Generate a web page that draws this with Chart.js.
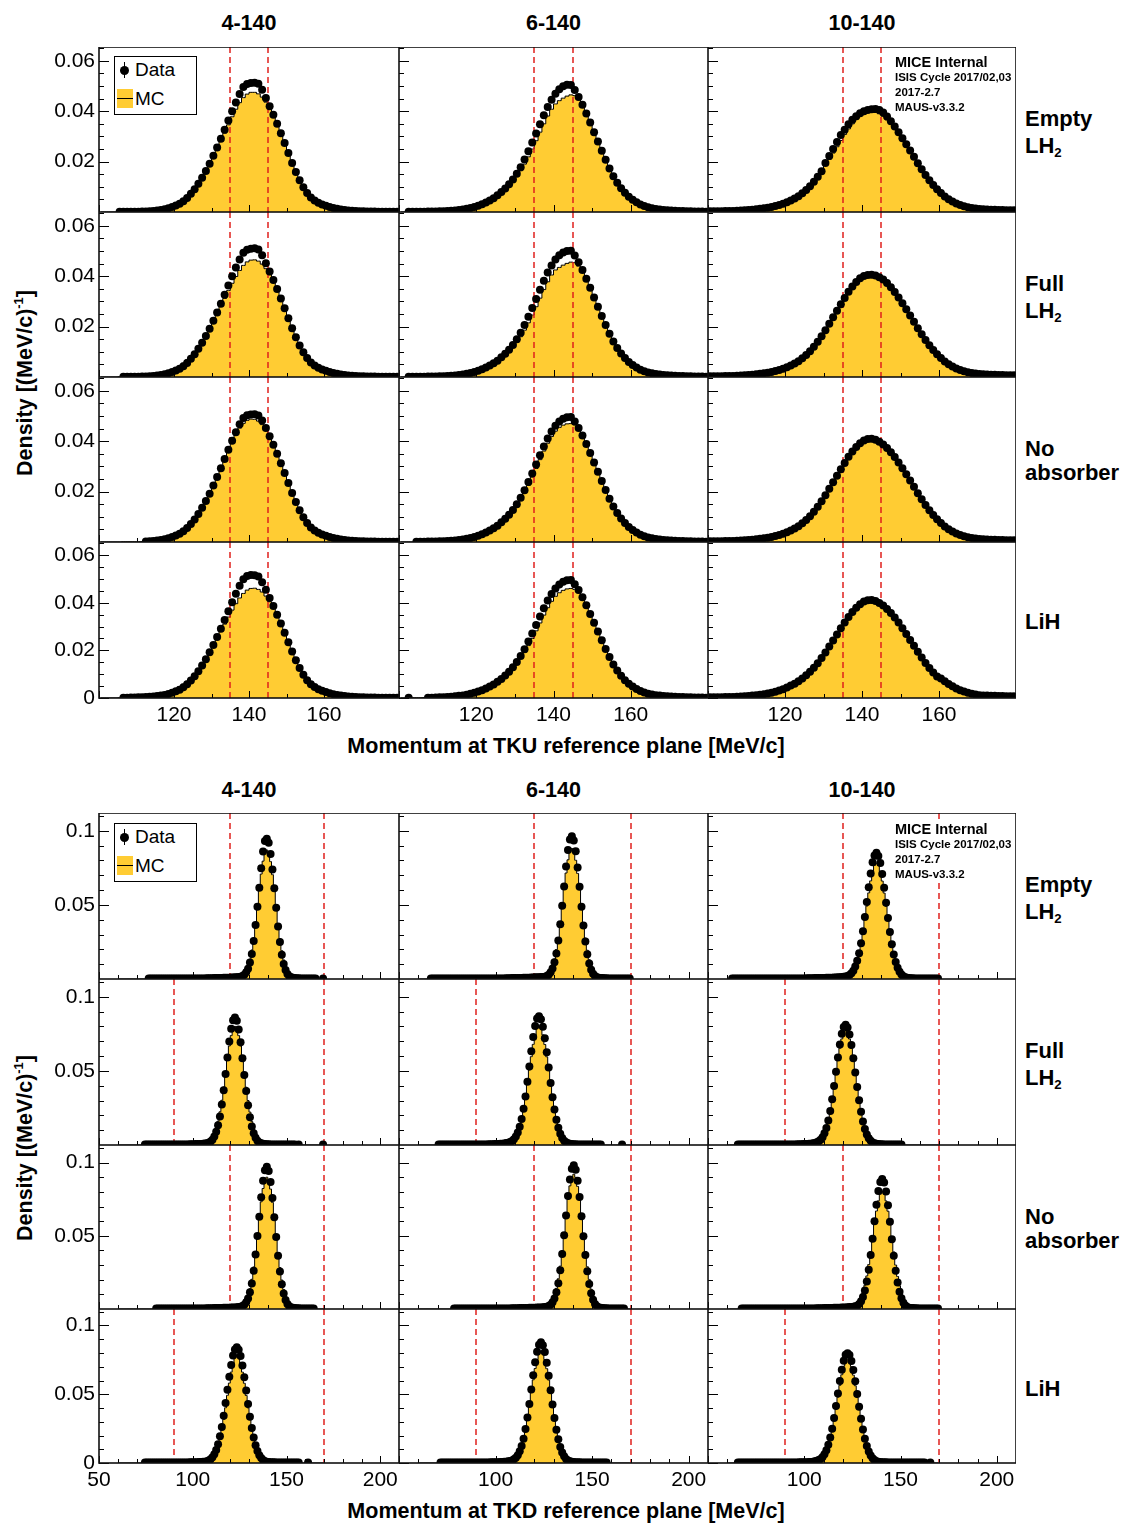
<!DOCTYPE html>
<html>
<head>
<meta charset="utf-8">
<script src="https://cdn.jsdelivr.net/npm/chart.js@4.4.1/dist/chart.umd.min.js"></script>
<style>
  body { margin: 0; background: #fff; }
  #page { position: relative; width: 1126px; height: 1524px; overflow: hidden; }
  #page canvas { position: absolute; }
  .lbl { position: absolute; font-family: "Liberation Sans", Arial, Helvetica, sans-serif; white-space: nowrap; line-height: 1; color: #000; }
  .c { transform: translate(-50%, -50%); }
  .l { transform: translate(0, -50%); }
  .b { font-weight: bold; }
  sub { font-size: 0.6em; vertical-align: -0.35em; }
  sup { font-size: 0.6em; vertical-align: 0.7em; }
  .legend { position: absolute; background: #fff; border: 1px solid #000; }
  .mice { position: absolute; background: #fff; font-family: "Liberation Sans", Arial, sans-serif; font-weight: bold; }
  .mice div { height: 15px; line-height: 15px; white-space: nowrap; }
</style>
</head>
<body>
<div id="page"></div>
<script>
const n = null;

// 1 MeV/c bins. TKU bin centres start at 100.5, TKD bin centres start at 60.5
// densities below are in units of 1e-3 (MeV/c)^-1
const tkuBinStart = 100.5;
const tkdBinStart = 60.5;

// ---------- TKU (upstream) ----------
const tku_empty_4_data = [n,n,n,n,n,0.1,0.1,0.1,0.1,0.1, 0.1,0.2,0.2,0.3,0.4,0.6,0.8,1.1,1.5,2.0, 2.6,3.3,4.3,5.6,7.2,9.0,11.2,13.6,16.3,19.2, 22.3,25.6,29.1,32.7,36.3,40.0,43.5,46.8,49.6,50.8, 51.2,51.3,50.9,48.5,45.3,42.0,38.6,35.0,31.3,27.4, 23.4,19.5,15.9,12.6,9.8,7.5,5.8,4.6,3.7,3.0, 2.5,2.0,1.6,1.3,1.0,0.8,0.6,0.5,0.4,0.3, 0.3,0.2,0.2,0.2,0.1,0.1,0.1,0.1,0.1,0.1];
const tku_empty_4_mc = [0,0,0,0,0,0.1,0.1,0.1,0.1,0.1, 0.1,0.2,0.3,0.4,0.5,0.7,1.0,1.3,1.8,2.4, 3.1,3.9,4.9,6.1,7.6,9.4,11.4,13.6,16.1,18.8, 21.7,24.8,28.0,31.3,34.6,37.8,40.8,43.4,45.4,46.8, 47.5,47.5,46.9,45.6,43.6,41.0,38.0,34.6,31.0,27.2, 23.3,19.6,16.1,13.0,10.3,8.0,6.1,4.7,3.6,2.8, 2.2,1.7,1.3,1.0,0.8,0.6,0.5,0.4,0.3,0.3, 0.2,0.2,0.2,0.1,0.1,0.1,0.1,0.1,0.1,0.1];
const tku_empty_6_data = [n,n,0.1,0.1,0.1,0.1,0.1,0.2,0.2,0.2, 0.3,0.3,0.4,0.5,0.6,0.8,1.0,1.3,1.6,2.0, 2.5,3.1,3.8,4.6,5.5,6.6,7.9,9.3,11.0,12.9, 15.2,17.8,20.8,24.1,27.6,31.2,34.8,38.4,41.7,44.6, 46.9,48.7,49.9,50.5,50.4,48.4,45.7,42.6,39.1,35.5, 31.7,28.0,24.3,20.7,17.3,14.2,11.6,9.4,7.6,6.1, 4.9,3.9,3.0,2.4,1.9,1.5,1.2,1.0,0.8,0.7, 0.6,0.5,0.4,0.4,0.3,0.3,0.2,0.2,0.2,0.1];
const tku_empty_6_mc = [0,0,0.1,0.1,0.1,0.1,0.1,0.2,0.2,0.2, 0.3,0.3,0.4,0.5,0.6,0.8,1.0,1.3,1.6,2.0, 2.5,3.1,3.8,4.6,5.5,6.5,7.6,8.9,10.4,12.1, 14.1,16.4,19.0,21.9,25.0,28.3,31.7,35.0,38.1,40.8, 42.9,44.2,45.2,46.0,46.5,46.2,44.6,42.0,38.8,35.3, 31.6,28.0,24.3,20.7,17.3,14.2,11.6,9.4,7.6,6.1, 4.9,3.9,3.0,2.4,1.9,1.5,1.2,1.0,0.8,0.7, 0.6,0.5,0.4,0.4,0.3,0.3,0.2,0.2,0.2,0.1];
const tku_empty_10_data = [0.3,0.3,0.3,0.3,0.4,0.4,0.4,0.5,0.6,0.7, 0.8,0.9,1.1,1.3,1.5,1.7,2.0,2.4,2.8,3.3, 3.9,4.6,5.4,6.3,7.4,8.7,10.2,12.0,14.0,16.2, 19.5,22.2,25.0,27.8,30.6,32.7,34.8,36.6,38.0,39.2, 40.0,40.5,40.8,40.9,40.5,39.5,37.9,36.0,33.9,31.7, 29.3,26.9,24.4,21.9,19.4,17.0,14.7,12.6,10.7,9.0, 7.5,6.2,5.1,4.2,3.4,2.8,2.3,1.9,1.6,1.4, 1.2,1.1,1.0,0.9,0.9,0.8,0.8,0.7,0.7,0.7];
const tku_empty_10_mc = [0.3,0.3,0.3,0.3,0.4,0.4,0.4,0.5,0.6,0.7, 0.8,0.9,1.1,1.3,1.5,1.7,2.0,2.4,2.8,3.3, 3.9,4.6,5.4,6.3,7.4,8.7,10.2,12.0,14.0,16.2, 18.5,20.9,23.4,25.9,28.4,30.8,33.0,35.0,36.7,38.1, 39.0,39.5,39.6,39.5,39.0,38.0,36.6,35.0,33.2,31.2, 29.2,26.8,24.3,21.8,19.3,16.9,14.6,12.5,10.6,8.9, 7.4,6.1,5.0,4.1,3.3,2.7,2.2,1.8,1.5,1.3, 1.1,1.0,0.9,0.8,0.8,0.7,0.7,0.6,0.6,0.6];

const tku_full_4_data = [n,n,n,n,n,n,0.1,0.1,0.1,0.1, 0.1,0.2,0.2,0.3,0.4,0.6,0.8,1.1,1.5,2.0, 2.6,3.3,4.3,5.6,7.2,9.0,11.2,13.6,16.3,19.2, 22.3,25.6,29.1,32.7,36.3,40.0,43.5,46.6,49.3,50.5, 50.9,51.1,50.6,48.3,45.2,41.9,38.5,34.9,31.2,27.3, 23.3,19.4,15.8,12.5,9.8,7.5,5.8,4.6,3.7,3.0, 2.5,2.0,1.6,1.3,1.0,0.8,0.6,0.5,0.4,0.3, 0.3,0.2,0.2,0.2,0.1,0.1,0.1,0.1,0.1,0.1];
const tku_full_4_mc = [0,0,0,0,0,0.1,0.1,0.1,0.1,0.1, 0.2,0.2,0.3,0.4,0.6,0.8,1.1,1.5,2.0,2.7, 3.5,4.4,5.5,6.8,8.3,10.1,12.1,14.3,16.8,19.4, 22.2,25.1,28.1,31.2,34.3,37.2,39.9,42.3,44.3,45.7, 46.4,46.5,46.0,44.8,43.0,40.6,37.7,34.4,30.8,27.0, 23.2,19.5,16.0,12.9,10.2,7.9,6.1,4.7,3.6,2.8, 2.2,1.7,1.3,1.0,0.8,0.6,0.5,0.4,0.3,0.3, 0.2,0.2,0.2,0.1,0.1,0.1,0.1,0.1,0.1,0.1];
const tku_full_6_data = [n,n,0.1,0.1,0.1,0.1,0.1,0.2,0.2,0.2, 0.3,0.3,0.4,0.5,0.6,0.8,1.0,1.3,1.6,2.0, 2.5,3.1,3.8,4.6,5.5,6.5,7.8,9.2,10.8,12.7, 15.0,17.6,20.6,23.9,27.4,31.0,34.6,38.2,41.5,44.3, 46.6,48.3,49.4,50.0,50.1,48.2,45.6,42.5,39.0,35.4, 31.6,27.9,24.2,20.6,17.2,14.1,11.5,9.3,7.5,6.0, 4.8,3.8,2.9,2.3,1.8,1.5,1.2,1.0,0.8,0.7, 0.6,0.5,0.4,0.4,0.3,0.3,0.2,0.2,0.2,0.1];
const tku_full_6_mc = [0,0,0.1,0.1,0.1,0.1,0.1,0.2,0.2,0.2, 0.3,0.3,0.4,0.5,0.6,0.8,1.0,1.3,1.6,2.0, 2.5,3.1,3.8,4.6,5.5,6.5,7.6,8.9,10.3,11.9, 13.8,16.0,18.6,21.5,24.6,27.9,31.3,34.7,37.8,40.5, 42.5,43.5,44.4,45.1,45.6,45.4,44.0,41.6,38.5,35.1, 31.5,27.9,24.2,20.6,17.2,14.1,11.5,9.3,7.5,6.0, 4.8,3.8,2.9,2.3,1.8,1.4,1.1,0.9,0.7,0.6, 0.5,0.4,0.4,0.3,0.3,0.2,0.2,0.2,0.1,0.1];
const tku_full_10_data = [0.3,0.3,0.3,0.3,0.4,0.4,0.4,0.5,0.6,0.7, 0.8,0.9,1.1,1.3,1.5,1.7,2.0,2.4,2.8,3.3, 3.9,4.6,5.4,6.3,7.4,8.7,10.2,12.0,14.0,16.2, 18.6,21.1,23.7,26.3,28.9,31.4,33.8,35.9,37.7,39.2, 40.1,40.5,40.6,40.3,39.6,38.7,37.3,35.6,33.7,31.6, 29.3,26.9,24.4,21.9,19.4,17.0,14.7,12.6,10.7,9.0, 7.5,6.2,5.1,4.2,3.4,2.8,2.3,1.9,1.6,1.4, 1.2,1.1,1.0,0.9,0.9,0.8,0.8,0.7,0.7,0.7];
const tku_full_10_mc = [0.3,0.3,0.3,0.3,0.4,0.4,0.4,0.5,0.6,0.7, 0.8,0.9,1.1,1.3,1.5,1.7,2.0,2.4,2.8,3.3, 3.9,4.6,5.4,6.3,7.4,8.7,10.2,12.0,14.0,16.2, 18.6,21.0,23.6,26.1,28.7,31.1,33.4,35.5,37.3,38.7, 39.6,40.0,40.0,39.7,39.1,38.2,36.9,35.3,33.5,31.5, 29.2,26.8,24.3,21.8,19.3,16.9,14.6,12.5,10.6,8.9, 7.4,6.1,5.0,4.1,3.3,2.7,2.2,1.8,1.5,1.3, 1.1,1.0,0.9,0.8,0.8,0.7,0.7,0.6,0.6,0.6];

const tku_none_4_data = [n,n,n,n,n,n,n,n,n,n, n,n,0.2,0.3,0.4,0.6,0.8,1.1,1.5,2.0, 2.6,3.3,4.3,5.6,7.1,8.9,11.1,13.6,16.3,19.2, 22.4,25.8,29.3,32.9,36.6,40.2,43.6,46.7,49.2,50.3, 50.6,50.7,50.2,48.2,45.3,42.0,38.6,35.0,31.3,27.4, 23.4,19.5,15.9,12.6,9.8,7.5,5.8,4.6,3.7,3.0, 2.5,2.0,1.6,1.3,1.0,0.8,0.6,0.5,0.4,0.3, 0.3,0.2,0.2,0.2,0.1,0.1,0.1,0.1,0.1,0.1];
const tku_none_4_mc = [0,0,0,0,0,0,0.1,0.1,0.1,0.1, 0.1,0.2,0.3,0.4,0.5,0.7,1.0,1.3,1.8,2.4, 3.1,3.9,4.9,6.1,7.6,9.4,11.5,13.8,16.4,19.3, 22.4,25.7,29.1,32.6,36.1,39.5,42.6,45.2,47.1,48.3, 48.8,48.7,48.0,46.6,44.4,41.6,38.3,34.8,31.1,27.2, 23.3,19.6,16.1,13.0,10.3,8.0,6.1,4.7,3.6,2.8, 2.2,1.7,1.3,1.0,0.8,0.6,0.5,0.4,0.3,0.3, 0.2,0.2,0.2,0.1,0.1,0.1,0.1,0.1,0.1,0.1];
const tku_none_6_data = [n,n,n,n,0.1,0.1,0.1,0.2,0.2,0.2, 0.3,0.3,0.4,0.5,0.6,0.8,1.0,1.3,1.6,2.0, 2.5,3.1,3.8,4.6,5.5,6.5,7.8,9.2,10.8,12.7, 15.0,17.6,20.5,23.8,27.2,30.8,34.4,37.9,41.1,43.9, 46.1,47.8,48.9,49.5,49.6,47.8,45.3,42.3,38.9,35.3, 31.6,27.9,24.2,20.6,17.2,14.1,11.5,9.3,7.5,6.0, 4.8,3.8,2.9,2.3,1.8,1.5,1.2,1.0,0.8,0.7, 0.6,0.5,0.4,0.4,0.3,0.3,0.2,0.2,0.2,0.1];
const tku_none_6_mc = [0,0,0,0,0.1,0.1,0.1,0.2,0.2,0.2, 0.3,0.3,0.4,0.5,0.6,0.8,1.0,1.3,1.6,2.0, 2.5,3.1,3.8,4.6,5.5,6.5,7.7,9.0,10.5,12.3, 14.4,16.8,19.5,22.5,25.8,29.2,32.7,36.1,39.2,41.9, 44.0,45.5,46.4,46.9,47.0,46.5,44.8,42.2,38.9,35.3, 31.6,27.9,24.2,20.6,17.2,14.1,11.5,9.3,7.5,6.0, 4.8,3.8,2.9,2.3,1.8,1.4,1.1,0.9,0.7,0.6, 0.5,0.4,0.4,0.3,0.3,0.2,0.2,0.2,0.1,0.1];
const tku_none_10_data = [0.3,0.3,0.3,0.3,0.4,0.4,0.4,0.5,0.6,0.7, 0.8,0.9,1.1,1.3,1.5,1.7,2.0,2.4,2.8,3.3, 3.9,4.6,5.4,6.3,7.4,8.7,10.2,12.0,14.0,16.2, 18.6,21.1,23.7,26.3,28.9,31.4,33.8,35.9,37.7,39.2, 40.3,40.9,41.0,40.6,39.8,38.7,37.3,35.6,33.7,31.6, 29.3,26.9,24.4,21.9,19.4,17.0,14.7,12.6,10.7,9.0, 7.5,6.2,5.1,4.2,3.4,2.8,2.3,1.9,1.6,1.4, 1.2,1.1,1.0,0.9,0.9,0.8,0.8,0.7,0.7,0.7];
const tku_none_10_mc = [0.3,0.3,0.3,0.3,0.4,0.4,0.4,0.5,0.6,0.7, 0.8,0.9,1.1,1.3,1.5,1.7,2.0,2.4,2.8,3.3, 3.9,4.6,5.4,6.3,7.4,8.7,10.2,12.0,14.0,16.2, 18.6,21.0,23.6,26.2,28.8,31.2,33.5,35.6,37.5,39.0, 40.0,40.5,40.5,40.1,39.4,38.4,37.0,35.4,33.5,31.5, 29.2,26.8,24.3,21.8,19.3,16.9,14.6,12.5,10.6,8.9, 7.4,6.1,5.0,4.1,3.3,2.7,2.2,1.8,1.5,1.3, 1.1,1.0,0.9,0.8,0.8,0.7,0.7,0.6,0.6,0.6];

const tku_lih_4_data = [n,n,n,n,n,n,0.1,0.1,0.2,0.2, 0.3,0.3,0.4,0.5,0.6,0.8,1.0,1.3,1.7,2.2, 2.8,3.5,4.5,5.8,7.3,9.1,11.2,13.6,16.3,19.2, 22.3,25.6,29.1,32.7,36.4,40.2,43.8,47.1,49.9,51.2, 51.6,51.5,51.0,48.6,45.4,42.0,38.6,35.0,31.3,27.4, 23.4,19.5,15.9,12.6,9.8,7.5,5.8,4.6,3.7,3.0, 2.5,2.0,1.6,1.3,1.0,0.8,0.6,0.5,0.4,0.3, 0.3,0.2,0.2,0.2,0.1,0.1,0.1,0.1,0.1,0.1];
const tku_lih_4_mc = [0,0,0,0,0,0.1,0.1,0.2,0.2,0.3, 0.4,0.5,0.6,0.8,1.0,1.3,1.7,2.1,2.6,3.2, 3.9,4.8,5.8,7.0,8.4,10.1,12.0,14.2,16.6,19.2, 22.0,24.9,27.9,31.0,34.0,36.9,39.6,42.0,43.9,45.3, 46.0,46.1,45.6,44.5,42.8,40.4,37.6,34.3,30.8,27.0, 23.2,19.5,16.0,12.9,10.2,7.9,6.1,4.7,3.6,2.8, 2.2,1.7,1.3,1.0,0.8,0.6,0.5,0.4,0.3,0.3, 0.2,0.2,0.2,0.1,0.1,0.1,0.1,0.1,0.1,0.1];
const tku_lih_6_data = [n,n,0.1,n,n,n,n,0.1,0.1,0.2, 0.3,0.3,0.4,0.5,0.7,0.9,1.1,1.4,1.8,2.2, 2.7,3.3,4.0,4.8,5.7,6.8,8.0,9.4,11.0,12.9, 15.1,17.6,20.5,23.7,27.1,30.6,34.2,37.7,40.9,43.7, 46.0,47.7,48.8,49.4,49.5,47.8,45.3,42.3,38.9,35.3, 31.6,27.9,24.2,20.6,17.2,14.1,11.5,9.3,7.5,6.0, 4.8,3.8,2.9,2.3,1.8,1.5,1.2,1.0,0.8,0.7, 0.6,0.5,0.4,0.4,0.3,0.3,0.2,0.2,0.2,0.1];
const tku_lih_6_mc = [0,0,0.1,0.1,0.1,0.1,0.2,0.2,0.2,0.3, 0.4,0.4,0.5,0.6,0.8,1.0,1.2,1.5,1.9,2.3, 2.8,3.4,4.1,4.9,5.8,6.9,8.1,9.4,10.9,12.6, 14.5,16.7,19.2,22.0,25.0,28.2,31.5,34.8,37.9,40.6, 42.7,44.2,45.2,45.8,46.0,45.6,44.2,41.8,38.7,35.2, 31.5,27.8,24.1,20.5,17.1,14.0,11.4,9.2,7.4,5.9, 4.7,3.7,2.9,2.3,1.8,1.4,1.1,0.9,0.7,0.6, 0.5,0.4,0.4,0.3,0.3,0.2,0.2,0.2,0.1,0.1];
const tku_lih_10_data = [0.3,0.3,0.3,0.3,0.4,0.4,0.4,0.5,0.6,0.7, 0.8,1.0,1.2,1.4,1.6,1.9,2.2,2.6,3.1,3.7, 4.4,5.2,6.0,7.0,8.2,9.5,11.0,12.7,14.6,16.8, 19.1,21.6,24.1,26.7,29.3,31.7,34.0,36.1,37.9,39.4, 40.5,41.0,41.1,40.7,39.9,38.8,37.4,35.7,33.8,31.7, 29.3,26.9,24.4,21.9,19.4,17.0,14.7,12.6,10.7,9.0, 8.2,7.0,5.9,4.9,4.0,3.3,2.7,2.2,1.8,1.5, 1.2,1.1,1.0,0.9,0.9,0.8,0.8,0.7,0.7,0.7];
const tku_lih_10_mc = [0.3,0.3,0.3,0.3,0.4,0.4,0.4,0.5,0.6,0.7, 0.8,1.0,1.2,1.4,1.6,1.9,2.2,2.6,3.1,3.7, 4.4,5.2,6.0,7.0,8.2,9.5,11.0,12.7,14.6,16.8, 18.6,21.0,23.6,26.1,28.7,31.1,33.4,35.5,37.3,38.7, 39.6,40.0,40.0,39.7,39.1,38.2,36.9,35.3,33.5,31.5, 29.2,26.8,24.3,21.8,19.3,16.9,14.6,12.5,10.6,8.9, 8.1,6.9,5.8,4.8,3.9,3.2,2.6,2.1,1.7,1.4, 1.1,1.0,0.9,0.8,0.8,0.7,0.7,0.6,0.6,0.6];

// ---------- TKD (downstream) ----------
const tkd_empty_4_data = [n,n,n,n,n,n,n,n,n,n, n,n,n,n,n,n,0.3,0.3,0.3,0.3, 0.3,0.3,0.3,0.3,0.3,0.3,0.3,0.3,0.3,0.3, 0.3,0.3,0.3,0.3,0.3,0.3,0.3,0.3,0.3,0.3, 0.3,0.3,0.3,0.4,0.4,0.4,0.4,0.5,0.5,0.5, 0.5,0.6,0.6,0.6,0.7,0.7,0.8,0.8,0.9,0.9, 1.0,1.0,1.1,1.2,1.3,1.5,2.0,2.9,4.5,7.0, 11.1,16.9,25.6,36.4,48.8,61.5,74.8,86.0,93.1,94.6, 92.0,84.4,73.9,61.2,48.0,35.5,24.9,16.3,10.1,6.0, 3.3,1.8,1.1,0.8,0.6,0.5,0.5,0.4,0.4,0.4, 0.3,0.3,0.3,0.3,0.3,0.3,n,n,n,0.3];
const tkd_empty_4_mc = [0,0,0,0,0,0,0,0,0,0, 0,0,0,0,0,0,0,0,0,0, 0,0,0,0,0,0,0,0,0,0, 0,0,0,0,0,0,0,0,0,0, 0,0,0,0.1,0.1,0.1,0.1,0.1,0.2,0.2, 0.2,0.2,0.3,0.3,0.3,0.4,0.4,0.4,0.5,0.5, 0.6,0.6,0.7,0.8,0.9,1.4,2.1,3.5,5.6,8.8, 13.4,19.6,27.7,37.6,48.6,60.0,70.8,79.5,85.2,87.0, 85.0,79.2,70.4,59.6,48.2,37.1,27.3,19.1,12.9,8.2, 5.0,2.9,1.6,0.9,0.5,0.3,0.2,0.2,0.1,0.1, 0,0,0,0,0,0,0,0,0,0];
const tkd_empty_6_data = [n,n,n,n,n,n,0.3,0.3,0.3,0.3, 0.3,0.3,0.3,0.3,0.3,0.3,0.3,0.3,0.3,0.3, 0.3,0.3,0.3,0.3,0.3,0.3,0.3,0.3,0.3,0.3, 0.3,0.3,0.3,0.3,0.3,0.3,0.3,0.3,0.3,0.3, 0.3,0.4,0.4,0.4,0.4,0.5,0.5,0.5,0.6,0.6, 0.6,0.7,0.7,0.7,0.8,0.8,0.9,0.9,1.0,1.0, 1.1,1.1,1.2,1.3,1.4,1.6,2.0,2.9,4.6,7.1, 11.3,17.2,25.9,36.9,49.5,62.4,75.9,87.0,94.2,96.3, 93.5,86.2,75.2,62.2,48.8,36.1,25.3,16.7,10.4,6.2, 3.5,2.0,1.2,0.9,0.7,0.6,0.5,0.5,0.4,0.4, 0.4,0.3,0.3,0.3,0.3,0.3,0.3,0.3,0.3,0.3];
const tkd_empty_6_mc = [0,0,0,0,0,0,0,0,0,0, 0,0,0,0,0,0,0,0,0,0, 0,0,0,0,0,0,0,0,0,0, 0,0,0,0,0,0,0,0,0,0, 0,0,0,0.1,0.1,0.1,0.1,0.1,0.2,0.2, 0.2,0.2,0.3,0.3,0.3,0.4,0.4,0.4,0.5,0.5, 0.6,0.6,0.7,0.8,0.9,1.4,2.1,3.5,5.6,8.9, 13.5,19.9,28.0,38.1,49.2,60.6,71.5,80.4,86.2,88.0, 86.0,80.1,71.2,60.3,48.8,37.6,27.6,19.4,13.0,8.3, 5.0,2.9,1.6,0.9,0.5,0.3,0.2,0.2,0.1,0.1, 0,0,0,0,0,0,0,0,0,0];
const tkd_empty_10_data = [n,n,0.3,0.3,0.3,0.3,0.3,0.3,0.3,0.3, 0.3,0.3,0.3,0.3,0.3,0.3,0.3,0.3,0.3,0.3, 0.3,0.3,0.3,0.3,0.3,0.3,0.3,0.3,0.3,0.3, 0.3,0.3,0.3,0.3,0.3,0.4,0.4,0.4,0.4,0.4, 0.4,0.5,0.5,0.5,0.5,0.6,0.6,0.6,0.7,0.7, 0.7,0.8,0.8,0.9,0.9,1.0,1.0,1.1,1.2,1.3, 1.5,1.7,2.0,2.7,3.8,5.6,8.4,12.3,17.4,24.1, 32.3,41.8,51.9,61.9,71.2,78.7,83.4,85.1,83.0,78.2, 70.8,61.5,51.4,41.2,31.7,23.4,16.6,11.4,7.6,4.9, 3.1,1.9,1.2,0.8,0.6,0.5,0.5,0.4,0.4,0.4, 0.3,0.3,0.3,0.3,0.3,0.3,0.3,0.3,0.3,0.3];
const tkd_empty_10_mc = [0,0,0,0,0,0,0,0,0,0, 0,0,0,0,0,0,0,0,0,0, 0,0,0,0,0,0,0,0,0,0, 0,0,0,0,0,0.1,0.1,0.1,0.1,0.1, 0.1,0.2,0.2,0.2,0.2,0.3,0.3,0.3,0.4,0.4, 0.4,0.5,0.5,0.6,0.6,0.7,0.7,0.8,0.9,1.0, 1.2,1.5,1.9,2.6,3.9,5.9,8.8,12.6,17.9,24.2, 31.8,40.3,49.2,58.1,66.2,72.6,76.7,78.0,76.6,72.5, 66.1,58.0,49.1,40.1,31.5,23.9,17.5,12.2,8.3,5.5, 3.4,2.1,1.2,0.7,0.4,0.3,0.2,0.2,0.1,0.1, 0,0,0,0,0,0,0,0,0,0];

const tkd_full_4_data = [n,n,n,n,n,n,n,n,n,n, n,n,n,n,0.3,0.3,0.3,0.3,0.3,0.3, 0.3,0.3,0.3,0.3,0.3,0.3,0.3,0.3,0.3,0.3, 0.3,0.3,0.3,0.3,0.4,0.4,0.4,0.4,0.5,0.5, 0.5,0.6,0.6,0.7,0.7,0.8,1.0,1.2,1.6,2.3, 3.6,5.8,8.9,13.3,19.3,27.3,37.0,47.9,59.1,69.8, 78.4,84.2,86.1,83.8,78.0,69.4,58.6,47.3,36.4,26.8, 18.7,12.5,8.0,4.9,2.9,1.7,1.1,0.8,0.6,0.5, 0.5,0.4,0.4,0.4,0.3,0.3,0.3,0.3,0.3,0.3, 0.3,0.3,0.3,0.3,0.3,n,0.3,n,n,n, n,n,n,n,n,n,n,n,n,0.3];
const tkd_full_4_mc = [0,0,0,0,0,0,0,0,0,0, 0,0,0,0,0,0,0,0,0,0, 0,0,0,0,0,0,0,0,0,0, 0,0,0,0.1,0.1,0.1,0.1,0.1,0.2,0.2, 0.2,0.3,0.3,0.4,0.5,0.6,0.8,1.2,1.9,3.0, 4.8,7.4,11.1,16.1,22.4,30.2,39.1,48.6,58.1,66.8, 73.8,78.4,80.0,78.4,73.8,66.8,58.1,48.6,39.0,30.0, 22.2,15.8,10.8,7.1,4.5,2.7,1.6,0.9,0.5,0.3, 0.2,0.2,0.1,0.1,0.1,0,0,0,0,0, 0,0,0,0,0,0,0,0,0,0, 0,0,0,0,0,0,0,0,0,0];
const tkd_full_6_data = [n,n,n,n,n,n,n,n,n,n, 0.3,0.3,0.3,0.3,0.3,0.3,0.3,0.3,0.3,0.3, 0.3,0.3,0.3,0.3,0.3,0.3,0.3,0.3,0.3,0.3, 0.3,0.3,0.4,0.4,0.4,0.4,0.5,0.5,0.5,0.6, 0.6,0.7,0.8,0.9,1.0,1.3,1.6,2.0,2.7,3.9, 5.8,8.5,12.3,17.6,24.4,32.8,42.6,52.9,63.3,72.8, 80.3,85.3,86.8,84.8,79.7,72.1,62.6,52.3,41.9,32.3, 23.9,17.0,11.6,7.6,4.8,2.9,1.8,1.1,0.8,0.6, 0.5,0.5,0.4,0.4,0.4,0.3,0.3,0.3,0.3,0.3, 0.3,0.3,0.3,0.3,0.3,n,n,n,n,n, n,n,n,n,n,0.3,n,n,n,n];
const tkd_full_6_mc = [0,0,0,0,0,0,0,0,0,0, 0,0,0,0,0,0,0,0,0,0, 0,0,0,0,0,0,0,0,0,0, 0,0,0,0.1,0.1,0.1,0.1,0.2,0.2,0.2, 0.3,0.3,0.4,0.5,0.6,0.9,1.2,1.6,2.5,3.8, 5.9,8.9,12.9,18.2,24.8,32.6,41.4,50.6,59.6,67.9, 74.3,78.6,80.0,78.6,74.3,67.8,59.5,50.4,41.1,32.3, 24.5,17.9,12.6,8.6,5.6,3.5,2.2,1.3,0.8,0.5, 0.3,0.2,0.2,0.1,0.1,0.1,0,0,0,0, 0,0,0,0,0,0,0,0,0,0, 0,0,0,0,0,0,0,0,0,0];
const tkd_full_10_data = [n,n,n,n,n,0.3,0.3,0.3,0.3,0.3, 0.3,0.3,0.3,0.3,0.3,0.3,0.3,0.3,0.3,0.3, 0.3,0.3,0.3,0.3,0.3,0.3,0.3,0.3,0.3,0.3, 0.3,0.3,0.4,0.4,0.4,0.4,0.5,0.5,0.5,0.6, 0.6,0.7,0.8,0.9,1.1,1.4,1.8,2.5,3.6,5.3, 7.9,11.5,16.5,22.9,30.8,39.8,49.5,59.0,67.8,75.0, 79.6,81.1,79.2,74.6,67.4,58.6,49.0,39.2,30.2,22.4, 15.9,10.8,7.1,4.5,2.8,1.7,1.1,0.8,0.6,0.5, 0.5,0.4,0.4,0.4,0.3,0.3,0.3,0.3,0.3,0.3, 0.3,n,n,n,n,n,n,n,n,n, n,n,n,n,n,n,n,n,n,n];
const tkd_full_10_mc = [0,0,0,0,0,0,0,0,0,0, 0,0,0,0,0,0,0,0,0,0, 0,0,0,0,0,0,0,0,0,0, 0,0,0,0.1,0.1,0.1,0.1,0.2,0.2,0.2, 0.3,0.3,0.4,0.5,0.8,1.0,1.5,2.4,3.7,5.7, 8.5,12.4,17.5,23.9,31.4,39.9,48.7,57.4,65.3,71.6, 75.6,77.0,75.6,71.5,65.2,57.3,48.5,39.6,31.1,23.6, 17.2,12.1,8.2,5.4,3.4,2.1,1.2,0.7,0.4,0.3, 0.2,0.2,0.1,0.1,0.1,0,0,0,0,0, 0,0,0,0,0,0,0,0,0,0, 0,0,0,0,0,0,0,0,0,0];

const tkd_none_4_data = [n,n,n,n,n,n,n,n,n,n, n,n,n,n,n,n,n,n,n,n, 0.3,0.3,0.3,0.3,0.3,0.3,0.3,0.3,0.3,0.3, 0.3,0.3,0.3,0.3,0.3,0.3,0.3,0.3,0.3,0.3, 0.3,0.3,0.3,0.4,0.4,0.4,0.4,0.5,0.5,0.5, 0.5,0.6,0.6,0.6,0.7,0.7,0.8,0.8,0.9,0.9, 1.0,1.0,1.1,1.2,1.3,1.5,2.0,2.9,4.6,7.1, 11.4,17.4,26.1,37.2,49.8,63.0,76.3,87.6,94.8,97.1, 94.2,86.8,75.8,62.7,49.1,36.4,25.6,16.9,10.6,6.2, 3.4,1.8,1.1,0.8,0.6,0.5,0.5,0.4,0.4,0.4, 0.3,0.3,0.3,0.3,0.3,n,n,n,n,n];
const tkd_none_4_mc = [0,0,0,0,0,0,0,0,0,0, 0,0,0,0,0,0,0,0,0,0, 0,0,0,0,0,0,0,0,0,0, 0,0,0,0,0,0,0,0,0,0, 0,0,0,0.1,0.1,0.1,0.1,0.1,0.2,0.2, 0.2,0.2,0.3,0.3,0.3,0.4,0.4,0.4,0.5,0.5, 0.6,0.6,0.7,0.8,0.9,1.4,2.1,3.6,5.7,9.1, 13.8,20.3,28.7,38.9,50.3,62.1,73.2,82.3,88.1,90.0, 87.9,81.9,72.8,61.7,49.9,38.4,28.3,19.8,13.3,8.5, 5.1,3.0,1.6,0.9,0.5,0.3,0.2,0.2,0.1,0.1, 0,0,0,0,0,0,0,0,0,0];
const tkd_none_6_data = [n,n,n,n,n,n,n,n,n,n, n,n,n,n,n,n,n,n,0.3,0.3, 0.3,0.3,0.3,0.3,0.3,0.3,0.3,0.3,0.3,0.3, 0.3,0.3,0.3,0.3,0.3,0.3,0.3,0.3,0.3,0.3, 0.3,0.3,0.3,0.3,0.4,0.4,0.4,0.4,0.5,0.5, 0.5,0.5,0.6,0.6,0.6,0.7,0.7,0.8,0.8,0.9, 0.9,1.0,1.0,1.1,1.2,1.3,1.5,2.0,2.9,4.6, 7.2,11.5,17.6,26.4,37.5,50.3,63.9,77.1,88.5,95.8, 98.1,95.1,87.6,76.5,63.3,49.6,36.8,25.8,17.1,10.7, 6.3,3.5,1.9,1.1,0.8,0.6,0.5,0.5,0.4,0.4, 0.4,0.3,0.3,0.3,0.3,0.3,0.3,n,n,n];
const tkd_none_6_mc = [0,0,0,0,0,0,0,0,0,0, 0,0,0,0,0,0,0,0,0,0, 0,0,0,0,0,0,0,0,0,0, 0,0,0,0,0,0,0,0,0,0, 0,0,0,0,0.1,0.1,0.1,0.1,0.1,0.2, 0.2,0.2,0.2,0.3,0.3,0.3,0.4,0.4,0.4,0.5, 0.5,0.6,0.6,0.7,0.8,0.9,1.4,2.2,3.6,5.8, 9.2,14.1,20.7,29.3,39.7,51.4,63.4,74.8,84.1,90.3, 92.0,89.9,83.7,74.4,63.0,51.0,39.3,28.9,20.2,13.6, 8.6,5.2,3.0,1.7,0.9,0.5,0.3,0.2,0.1,0.1, 0,0,0,0,0,0,0,0,0,0];
const tkd_none_10_data = [n,n,n,n,n,n,n,0.3,0.3,0.3, 0.3,0.3,0.3,0.3,0.3,0.3,0.3,0.3,0.3,0.3, 0.3,0.3,0.3,0.3,0.3,0.3,0.3,0.3,0.3,0.3, 0.3,0.3,0.3,0.3,0.3,0.3,0.3,0.3,0.3,0.3, 0.3,0.3,0.4,0.4,0.4,0.4,0.5,0.5,0.5,0.5, 0.6,0.6,0.6,0.7,0.7,0.8,0.8,0.9,0.9,1.0, 1.0,1.1,1.2,1.3,1.4,1.6,1.8,2.3,3.4,5.3, 8.2,12.6,18.8,26.8,36.8,48.0,60.0,71.2,80.6,86.7, 88.8,86.4,80.2,70.8,59.6,47.6,36.3,26.2,18.1,11.8, 7.3,4.3,2.4,1.4,0.9,0.7,0.6,0.5,0.5,0.4, 0.4,0.4,0.3,0.3,0.3,0.3,0.3,0.3,0.3,0.3];
const tkd_none_10_mc = [0,0,0,0,0,0,0,0,0,0, 0,0,0,0,0,0,0,0,0,0, 0,0,0,0,0,0,0,0,0,0, 0,0,0,0,0,0,0.1,0.1,0.1,0.1, 0.1,0.1,0.2,0.2,0.2,0.2,0.3,0.3,0.3,0.4, 0.4,0.4,0.5,0.5,0.5,0.6,0.6,0.7,0.7,0.8, 0.9,1.0,1.1,1.2,1.3,1.4,2.0,3.1,4.9,7.5, 11.2,16.2,22.6,30.4,39.3,48.8,58.2,66.9,73.9,78.4, 80.0,78.4,73.8,66.8,58.1,48.6,39.0,30.0,22.2,15.8, 10.8,7.1,4.5,2.7,1.6,0.9,0.5,0.3,0.2,0.1, 0.1,0,0,0,0,0,0,0,0,0];

const tkd_lih_4_data = [n,n,n,n,n,n,n,n,n,n, n,n,n,n,0.3,0.3,0.3,0.3,0.3,0.3, 0.3,0.3,0.3,0.3,0.3,0.3,0.3,0.3,0.3,0.3, 0.3,0.3,0.3,0.3,0.4,0.4,0.4,0.4,0.5,0.5, 0.5,0.6,0.6,0.7,0.8,0.9,1.0,1.3,1.8,2.8, 4.2,6.4,9.5,13.7,19.4,26.2,34.4,43.6,53.3,62.8, 71.3,78.2,82.6,84.1,82.4,77.8,70.9,62.3,52.7,43.0, 33.7,25.5,18.6,13.0,8.8,5.7,3.6,2.2,1.3,0.9, 0.7,0.6,0.5,0.5,0.4,0.4,0.4,0.3,0.3,0.3, 0.3,0.3,0.3,0.3,0.3,0.3,0.3,n,n,n, n,0.3,n,n,n,n,n,n,n,n];
const tkd_lih_4_mc = [0,0,0,0,0,0,0,0,0,0, 0,0,0,0,0,0,0,0,0,0, 0,0,0,0,0,0,0,0,0,0, 0,0,0,0.1,0.1,0.1,0.1,0.2,0.2,0.2, 0.3,0.3,0.4,0.5,0.6,0.7,0.9,1.2,1.6,2.5, 3.8,5.8,8.6,12.5,17.8,24.2,31.7,40.2,49.2,58.1, 66.1,72.5,76.6,78.0,76.6,72.5,66.1,58.0,49.1,40.1, 31.5,23.9,17.5,12.2,8.3,5.5,3.4,2.1,1.2,0.7, 0.4,0.3,0.2,0.2,0.1,0.1,0,0,0,0, 0,0,0,0,0,0,0,0,0,0, 0,0,0,0,0,0,0,0,0,0];
const tkd_lih_6_data = [n,n,n,n,n,n,n,n,n,n, n,0.3,0.3,0.3,0.3,0.3,0.3,0.3,0.3,0.3, 0.3,0.3,0.3,0.3,0.3,0.3,0.3,0.3,0.3,0.3, 0.3,0.3,0.3,0.4,0.4,0.4,0.4,0.5,0.5,0.5, 0.6,0.6,0.7,0.8,0.9,1.0,1.2,1.5,1.9,2.7, 3.9,5.7,8.5,12.4,17.7,24.7,33.1,42.9,53.4,63.9, 73.3,81.0,86.0,87.8,85.7,80.7,73.0,63.5,53.0,42.5, 32.7,24.2,17.2,11.7,7.7,4.9,3.0,1.9,1.2,0.9, 0.7,0.6,0.5,0.5,0.4,0.4,0.4,0.3,0.3,0.3, 0.3,0.3,0.3,0.3,0.3,0.3,0.3,0.3,n,n, n,n,n,n,n,n,n,n,n,n];
const tkd_lih_6_mc = [0,0,0,0,0,0,0,0,0,0, 0,0,0,0,0,0,0,0,0,0, 0,0,0,0,0,0,0,0,0,0, 0,0,0,0.1,0.1,0.1,0.1,0.2,0.2,0.2, 0.3,0.3,0.4,0.5,0.6,0.7,0.9,1.2,1.7,2.6, 3.9,6.0,9.0,13.0,18.4,25.1,32.9,41.8,51.2,60.5, 68.7,75.3,79.6,81.0,79.5,75.2,68.6,60.3,51.0,41.6, 32.7,24.8,18.1,12.7,8.7,5.7,3.6,2.2,1.3,0.8, 0.5,0.3,0.2,0.2,0.1,0.1,0,0,0,0, 0,0,0,0,0,0,0,0,0,0, 0,0,0,0,0,0,0,0,0,0];
const tkd_lih_10_data = [n,n,n,n,n,0.3,0.3,0.3,0.3,0.3, 0.3,0.3,0.3,0.3,0.3,0.3,0.3,0.3,0.3,0.3, 0.3,0.3,0.3,0.3,0.3,0.3,0.3,0.3,0.3,0.3, 0.3,0.3,0.3,0.4,0.4,0.4,0.4,0.5,0.5,0.5, 0.6,0.6,0.7,0.8,0.9,1.2,1.6,2.1,3.0,4.3, 6.3,9.3,13.2,18.5,25.0,32.7,41.4,50.6,59.6,67.9, 74.4,78.7,79.9,78.5,74.2,67.7,59.4,50.2,40.9,32.1, 24.3,17.7,12.4,8.4,5.4,3.4,2.1,1.3,0.9,0.7, 0.6,0.5,0.5,0.4,0.4,0.4,0.3,0.3,0.3,0.3, 0.3,0.3,0.3,0.3,0.3,0.3,0.3,0.3,0.3,0.3, 0.3,0.3,0.3,n,n,0.3,n,n,n,n];
const tkd_lih_10_mc = [0,0,0,0,0,0,0,0,0,0, 0,0,0,0,0,0,0,0,0,0, 0,0,0,0,0,0,0,0,0,0, 0,0,0,0.1,0.1,0.1,0.1,0.2,0.2,0.2, 0.3,0.3,0.4,0.5,0.7,0.9,1.2,1.6,2.4,3.6, 5.6,8.4,12.2,17.2,23.4,30.8,39.1,47.9,56.5,64.2, 70.4,74.3,75.5,74.1,70.1,63.9,56.2,47.6,38.8,30.5, 23.1,16.9,11.9,8.1,5.3,3.3,2.0,1.2,0.7,0.4, 0.3,0.2,0.2,0.1,0.1,0,0,0,0,0, 0,0,0,0,0,0,0,0,0,0, 0,0,0,0,0,0,0,0,0,0];

// rows: Empty LH2, Full LH2, No absorber, LiH; columns: 4-140, 6-140, 10-140
const samples = ['4-140', '6-140', '10-140'];
const absorberLines = [['Empty', 'LH<sub>2</sub>'], ['Full', 'LH<sub>2</sub>'], ['No', 'absorber'], ['LiH']];
const tkuPanels = [
  [[tku_empty_4_data, tku_empty_4_mc], [tku_empty_6_data, tku_empty_6_mc], [tku_empty_10_data, tku_empty_10_mc]],
  [[tku_full_4_data, tku_full_4_mc], [tku_full_6_data, tku_full_6_mc], [tku_full_10_data, tku_full_10_mc]],
  [[tku_none_4_data, tku_none_4_mc], [tku_none_6_data, tku_none_6_mc], [tku_none_10_data, tku_none_10_mc]],
  [[tku_lih_4_data, tku_lih_4_mc], [tku_lih_6_data, tku_lih_6_mc], [tku_lih_10_data, tku_lih_10_mc]]
];
const tkdPanels = [
  [[tkd_empty_4_data, tkd_empty_4_mc], [tkd_empty_6_data, tkd_empty_6_mc], [tkd_empty_10_data, tkd_empty_10_mc]],
  [[tkd_full_4_data, tkd_full_4_mc], [tkd_full_6_data, tkd_full_6_mc], [tkd_full_10_data, tkd_full_10_mc]],
  [[tkd_none_4_data, tkd_none_4_mc], [tkd_none_6_data, tkd_none_6_mc], [tkd_none_10_data, tkd_none_10_mc]],
  [[tkd_lih_4_data, tkd_lih_4_mc], [tkd_lih_6_data, tkd_lih_6_mc], [tkd_lih_10_data, tkd_lih_10_mc]]
];
// momentum cut lines [MeV/c] per row
const tkuCuts = [[135, 145], [135, 145], [135, 145], [135, 145]];
const tkdCuts = [[120, 170], [90, 170], [120, 170], [90, 170]];

// ---------- layout ----------
const page = document.getElementById('page');
const FONT = '"Liberation Sans", Arial, Helvetica, sans-serif';
const MC_YELLOW = '#ffcc33';
const colEdges = [99, 399, 708, 1016];

const grids = [
  { name: 'tku', top: 0, rowEdges: [47, 212, 377, 542, 698], start: tkuBinStart, panels: tkuPanels, cuts: tkuCuts,
    xMin: 100, xMax: 180, xStep: 20, xMinor: 10, yMax: 0.0655, yStep: 0.02, yMinor: 0.005,
    xTitle: 'Momentum at TKU reference plane [MeV/c]', xTitleY: 747, yTitleY: 383 },
  { name: 'tkd', top: 767, rowEdges: [813, 979, 1145, 1309, 1463], start: tkdBinStart, panels: tkdPanels, cuts: tkdCuts,
    xMin: 50, xMax: 210, xStep: 50, xMinor: 10, yMax: 0.112, yStep: 0.05, yMinor: 0.01,
    xTitle: 'Momentum at TKD reference plane [MeV/c]', xTitleY: 1512, yTitleY: 1148 }
];

const rootFrame = {
  id: 'rootFrame',
  afterDatasetDraw(chart, args, opts) {
    if (args.index !== 1) return;   // after the MC histogram, before the data points
    const { ctx, chartArea: a, scales: { x } } = chart;
    ctx.save();
    ctx.beginPath(); ctx.rect(a.left, a.top, a.width, a.height); ctx.clip();
    ctx.strokeStyle = '#e0201c'; ctx.lineWidth = 1.5; ctx.setLineDash([6, 4]);
    opts.cuts.forEach(v => {
      const px = Math.round(x.getPixelForValue(v));
      ctx.beginPath(); ctx.moveTo(px, a.top); ctx.lineTo(px, a.bottom); ctx.stroke();
    });
    ctx.restore();
  },
  afterDraw(chart, args, opts) {
    const { ctx, chartArea: a, scales: { x, y } } = chart;
    ctx.save();
    ctx.strokeStyle = '#000'; ctx.lineWidth = 1;
    const yEvery = Math.round(opts.yMajor / opts.yMinor);
    for (let i = 0; i * opts.yMinor <= y.max + 1e-9; i++) {
      const py = Math.round(y.getPixelForValue(i * opts.yMinor)) + 0.5;
      const len = i % yEvery === 0 ? 10 : 5;
      ctx.beginPath(); ctx.moveTo(a.left, py); ctx.lineTo(a.left + len, py); ctx.stroke();
    }
    for (let v = x.min; v <= x.max; v += opts.xMinor) {
      const px = Math.round(x.getPixelForValue(v)) + 0.5;
      const len = v % opts.xMajor === 0 ? 7 : 4;
      ctx.beginPath(); ctx.moveTo(px, a.bottom); ctx.lineTo(px, a.bottom - len); ctx.stroke();
    }
    ctx.lineWidth = 1.6; ctx.strokeStyle = '#111';
    ctx.strokeRect(a.left, a.top, a.width, a.height);
    ctx.restore();
  }
};

function toPoints(values, start) {
  return values.map((v, i) => ({ x: start + i, y: v === null ? null : v / 1000 }));
}

// keep the plot area fixed: no label overhang padding from the axes
function fixBox(s, w, h) {
  if (w !== null) s.width = w;
  if (h !== null) s.height = h;
  s.paddingLeft = 0; s.paddingRight = 0; s.paddingTop = 0; s.paddingBottom = 0;
}

function addLabel(html, x, y, cls, css) {
  const d = document.createElement('div');
  d.className = 'lbl ' + cls;
  d.innerHTML = html;
  d.style.left = x + 'px';
  d.style.top = y + 'px';
  Object.assign(d.style, css || {});
  page.appendChild(d);
  return d;
}

grids.forEach(g => {
  for (let r = 0; r < 4; r++) {
    for (let c = 0; c < 3; c++) {
      const [dataVals, mcVals] = g.panels[r][c];
      const padL = c === 0 ? 60 : 0;
      const padB = r === 3 ? 36 : 0;
      const cv = document.createElement('canvas');
      cv.width = colEdges[c + 1] - colEdges[c] + padL;
      cv.height = g.rowEdges[r + 1] - g.rowEdges[r] + padB;
      cv.style.left = (colEdges[c] - padL) + 'px';
      cv.style.top = g.rowEdges[r] + 'px';
      page.appendChild(cv);

      new Chart(cv, {
        type: 'line',
        data: {
          datasets: [
            { label: 'Data', data: toPoints(dataVals, g.start), showLine: false,
              pointRadius: 4, pointHoverRadius: 0, pointBackgroundColor: '#000',
              pointBorderWidth: 0, borderColor: '#000' },
            { label: 'MC', data: toPoints(mcVals, g.start), stepped: 'middle', fill: 'origin',
              backgroundColor: MC_YELLOW, borderColor: '#000', borderWidth: 1, pointRadius: 0 }
          ]
        },
        options: {
          responsive: false,
          animation: false,
          events: [],
          layout: { padding: 0, autoPadding: false },
          plugins: {
            legend: { display: false },
            tooltip: { enabled: false },
            rootFrame: { cuts: g.cuts[r], yMajor: g.yStep, yMinor: g.yMinor, xMajor: g.xStep, xMinor: g.xMinor }
          },
          scales: {
            x: {
              type: 'linear', min: g.xMin, max: g.xMax, display: r === 3,
              afterFit: s => fixBox(s, null, padB),
              grid: { display: false, drawTicks: false },
              border: { display: false },
              ticks: {
                stepSize: g.xStep, includeBounds: false, autoSkip: false, maxRotation: 0, padding: 5,
                color: '#000', font: { family: FONT, size: 21 },
                callback: v => (v === g.xMax || (v === g.xMin && !(g.name === 'tkd' && c === 0))) ? '' : v
              }
            },
            y: {
              type: 'linear', min: 0, max: g.yMax, display: c === 0,
              afterFit: s => fixBox(s, padL, null),
              grid: { display: false, drawTicks: false },
              border: { display: false },
              ticks: {
                stepSize: g.yStep, includeBounds: false, padding: 4,
                color: '#000', font: { family: FONT, size: 21 },
                callback: v => v === 0 ? (r === 3 ? '0' : '') : String(+v.toFixed(2))
              }
            }
          }
        },
        plugins: [rootFrame]
      });
    }
  }

  // column titles
  samples.forEach((s, c) => {
    addLabel(s, (colEdges[c] + colEdges[c + 1]) / 2, g.top + 24, 'c b', { fontSize: '21.5px' });
  });
  // absorber labels at the right
  const lineOffsets = [[72, 100], [72, 100], [72, 96], [80]];
  absorberLines.forEach((lines, r) => {
    lines.forEach((t, k) => {
      addLabel(t, 1025, g.rowEdges[r] + lineOffsets[r][k], 'l b', { fontSize: '22px' });
    });
  });
  // axis titles
  addLabel(g.xTitle, 566, g.xTitleY, 'c b', { fontSize: '21.5px' });
  addLabel('Density [(MeV/c)<sup>-1</sup>]', 25, g.yTitleY, 'b',
    { fontSize: '21.5px', transform: 'translate(-50%, -50%) rotate(-90deg)' });

  // legend box
  const lg = document.createElement('div');
  lg.className = 'legend';
  Object.assign(lg.style, { left: '114px', top: (g.top + 56) + 'px', width: '81px', height: '57px' });
  lg.innerHTML =
    '<div style="position:absolute;left:9px;top:5px;width:1px;height:16px;background:#000"></div>' +
    '<div style="position:absolute;left:5px;top:9px;width:9px;height:9px;border-radius:50%;background:#000"></div>' +
    '<div style="position:absolute;left:2px;top:32px;width:16px;height:19px;background:' + MC_YELLOW + '"></div>' +
    '<div style="position:absolute;left:2px;top:41px;width:16px;height:1px;background:#000"></div>';
  page.appendChild(lg);
  addLabel('Data', 135, g.top + 69, 'l', { fontSize: '19px' });
  addLabel('MC', 135, g.top + 98, 'l', { fontSize: '19px' });

  // experiment label
  const mice = document.createElement('div');
  mice.className = 'mice';
  Object.assign(mice.style, { left: '895px', top: (g.top + 54.5) + 'px', width: '120px' });
  mice.innerHTML = '<div style="font-size:14.5px">MICE Internal</div>' +
    '<div style="font-size:11.5px">ISIS Cycle 2017/02,03</div>' +
    '<div style="font-size:11.5px">2017-2.7</div>' +
    '<div style="font-size:11.5px">MAUS-v3.3.2</div>';
  page.appendChild(mice);
});
</script>
</body>
</html>
